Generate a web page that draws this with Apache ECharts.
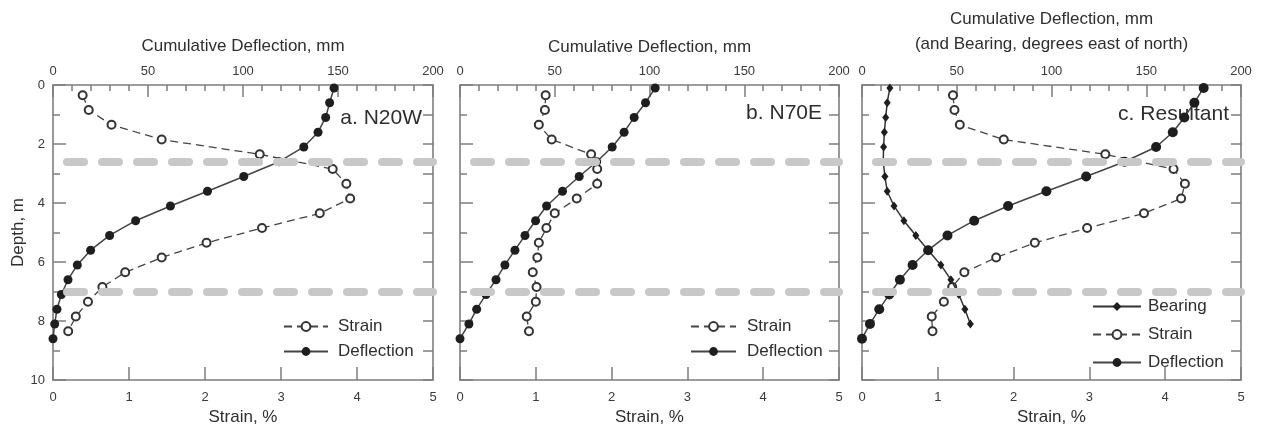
<!DOCTYPE html>
<html>
<head>
<meta charset="utf-8">
<script src="https://cdn.jsdelivr.net/npm/echarts@6/dist/echarts.min.js"></script>
<style>
  html, body { margin: 0; padding: 0; background: #fff; }
  #app { width: 1263px; height: 431px; }
</style>
</head>
<body>
<div id="app"></div>
<script>
// depths, m
var depthDefl = [0.1, 0.6, 1.1, 1.6, 2.1, 2.6, 3.1, 3.6, 4.1, 4.6, 5.1, 5.6, 6.1, 6.6, 7.1, 7.6, 8.1, 8.6]
var depthStrain = [0.35, 0.85, 1.35, 1.85, 2.35, 2.85, 3.35, 3.85, 4.35, 4.85, 5.35, 5.85, 6.35, 6.85, 7.35, 7.85, 8.35]
var depthBearing = [0.1, 0.6, 1.1, 1.6, 2.1, 2.6, 3.1, 3.6, 4.1, 4.6, 5.1, 5.6, 6.1, 6.6, 7.1, 7.6, 8.1]

// a. N20W
var strainA = [0.39, 0.47, 0.77, 1.43, 2.72, 3.68, 3.86, 3.91, 3.51, 2.75, 2.02, 1.43, 0.95, 0.65, 0.46, 0.30, 0.20]
var deflA = [147.9, 145.6, 143.5, 139.5, 132.0, 119.0, 100.4, 81.3, 61.8, 43.5, 29.8, 19.8, 12.8, 7.9, 4.4, 2.1, 0.9, 0]
// b. N70E
var strainB = [1.13, 1.12, 1.04, 1.21, 1.73, 1.81, 1.81, 1.54, 1.25, 1.14, 1.04, 1.02, 0.96, 1.01, 1.00, 0.88, 0.91]
var deflB = [103.0, 97.9, 91.9, 86.6, 80.3, 72.1, 62.9, 54.1, 45.7, 39.9, 34.3, 29.0, 23.7, 19.0, 13.7, 8.8, 4.7, 0]
// c. Resultant
var strainC = [1.20, 1.22, 1.29, 1.87, 3.21, 4.11, 4.26, 4.21, 3.72, 2.97, 2.28, 1.77, 1.35, 1.19, 1.08, 0.92, 0.93]
var deflC = [180.3, 175.4, 170.1, 164.0, 155.2, 138.5, 118.3, 97.3, 77.1, 59.2, 45.1, 34.9, 26.7, 20.0, 14.4, 9.1, 4.2, 0]
var bearingC = [14.7, 13.3, 12.5, 11.8, 11.4, 11.2, 12.1, 13.3, 16.9, 22.1, 28.4, 34.9, 41.6, 46.9, 51.1, 54.3, 57.2]

// boundary depths (gray dashed)
var refDepths = [2.6, 7.0]

var panelLabels = ['a. N20W', 'b. N70E', 'c. Resultant']
var topTitles = ['Cumulative Deflection, mm', 'Cumulative Deflection, mm', 'Cumulative Deflection, mm\n(and Bearing, degrees east of north)']
var topGaps = [26, 18, 28]

var font = "'Liberation Sans', Arial, sans-serif"
var axisColor = '#7e7e7e'
var ink = '#2e2e2e'

var pairs = (xs, ys) => xs.map((v, i) => [v, ys[i]])

var grids = [
    {left: 53, width: 380, top: 85, height: 296},
    {left: 460, width: 379, top: 85, height: 296},
    {left: 862, width: 379, top: 85, height: 296}
]

var xAxes = [], yAxes = [], series = []

grids.forEach((g, i) => {
    xAxes.push({
        gridIndex: i, type: 'value', position: 'top', min: 0, max: 200, interval: 50,
        name: topTitles[i], nameLocation: 'middle', nameGap: topGaps[i],
        nameTextStyle: {fontSize: 17, color: ink, fontFamily: font, lineHeight: 25},
        axisLine: {onZero: false, lineStyle: {color: axisColor, width: 1.6}},
        axisTick: {inside: true, length: 12, lineStyle: {color: axisColor, width: 1.5}},
        minorTick: {show: true, splitNumber: 5, length: 6, lineStyle: {color: axisColor, width: 1.5}},
        axisLabel: {margin: 7, fontSize: 13, color: '#3a3a3a', fontFamily: font},
        splitLine: {show: false}
    })
    xAxes.push({
        gridIndex: i, type: 'value', position: 'bottom', min: 0, max: 5, interval: 1,
        name: 'Strain, %', nameLocation: 'middle', nameGap: 29,
        nameTextStyle: {fontSize: 17, color: ink, fontFamily: font},
        axisLine: {onZero: false, lineStyle: {color: axisColor, width: 1.6}},
        axisTick: {inside: true, length: 13, lineStyle: {color: axisColor, width: 1.5}},
        axisLabel: {margin: 11, fontSize: 13, color: '#3a3a3a', fontFamily: font},
        splitLine: {show: false}
    })
    yAxes.push({
        gridIndex: i, type: 'value', position: 'left', inverse: true, min: 0, max: 10, interval: 2,
        name: i == 0 ? 'Depth, m' : '', nameLocation: 'middle', nameGap: 19,
        nameTextStyle: {fontSize: 17, color: ink, fontFamily: font},
        axisLine: {onZero: false, lineStyle: {color: axisColor, width: 1.6}},
        axisTick: {inside: true, length: 13, lineStyle: {color: axisColor, width: 1.5}},
        minorTick: {show: true, splitNumber: 2, length: 7, lineStyle: {color: axisColor, width: 1.5}},
        axisLabel: {show: i == 0, margin: 8, fontSize: 13, color: '#3a3a3a', fontFamily: font},
        splitLine: {show: false}
    })
    yAxes.push({
        gridIndex: i, type: 'value', position: 'right', inverse: true, min: 0, max: 10, interval: 1,
        axisLine: {onZero: false, lineStyle: {color: axisColor, width: 1.6}},
        axisTick: {inside: true, length: 10, lineStyle: {color: axisColor, width: 1.5}},
        axisLabel: {show: false},
        splitLine: {show: false}
    })

    // gray boundary lines behind the data
    series.push({
        name: 'ref' + i, type: 'line', data: [], xAxisIndex: 2 * i + 1, yAxisIndex: 2 * i, z: 1,
        markLine: {
            silent: true, symbol: ['none', 'none'], label: {show: false},
            lineStyle: {color: '#c8c8c8', width: 8, type: [17, 18], cap: 'round', dashOffset: -14},
            data: refDepths.map(d => ({yAxis: d}))
        }
    })
})

var strainSeries = (data, i) => ({
    name: 'Strain', type: 'line', data: data, xAxisIndex: 2 * i + 1, yAxisIndex: 2 * i, z: 3,
    symbol: 'emptyCircle', symbolSize: 8, showAllSymbol: true,
    lineStyle: {color: '#444', width: 1.3, type: [8, 5]},
    itemStyle: {color: '#333', borderWidth: 1.5}
})
var deflSeries = (data, i, size) => ({
    name: 'Deflection', type: 'line', data: data, xAxisIndex: 2 * i, yAxisIndex: 2 * i, z: 4,
    symbol: 'circle', symbolSize: size, showAllSymbol: true,
    lineStyle: {color: '#444', width: 1.5},
    itemStyle: {color: '#1e1e1e'}
})

series.push(strainSeries(pairs(strainA, depthStrain), 0))
series.push(deflSeries(pairs(deflA, depthDefl), 0, 9))
series.push(strainSeries(pairs(strainB, depthStrain), 1))
series.push(deflSeries(pairs(deflB, depthDefl), 1, 9))
series.push({
    name: 'Bearing', type: 'line', data: pairs(bearingC, depthBearing), xAxisIndex: 4, yAxisIndex: 4, z: 4,
    symbol: 'diamond', symbolSize: [7, 9], showAllSymbol: true,
    lineStyle: {color: '#333', width: 1.5},
    itemStyle: {color: '#1e1e1e'}
})
series.push(strainSeries(pairs(strainC, depthStrain), 2))
series.push(deflSeries(pairs(deflC, depthDefl), 2, 10))

var legendBase = {
    orient: 'vertical', selectedMode: false, itemHeight: 11,
    textStyle: {fontSize: 17, color: ink, fontFamily: font}
}

var chart = echarts.init(document.getElementById('app'), null, {renderer: 'canvas'})
chart.setOption({
    animation: false,
    backgroundColor: '#fff',
    grid: grids,
    xAxis: xAxes,
    yAxis: yAxes,
    legend: [
        Object.assign({}, legendBase, {data: ['Strain', 'Deflection'], left: 278, top: 313, itemWidth: 44, itemGap: 8,
            textStyle: Object.assign({}, legendBase.textStyle, {padding: [0, 0, 0, 5]})}),
        Object.assign({}, legendBase, {data: ['Strain', 'Deflection'], left: 685, top: 313, itemWidth: 45, itemGap: 8,
            textStyle: Object.assign({}, legendBase.textStyle, {padding: [0, 0, 0, 6]})}),
        Object.assign({}, legendBase, {data: ['Bearing', 'Strain', 'Deflection'], left: 1087, top: 293, itemWidth: 48, itemGap: 11,
            textStyle: Object.assign({}, legendBase.textStyle, {padding: [0, 0, 0, 2]})})
    ],
    graphic: [
        {type: 'text', right: 1263 - 422, top: 108, style: {text: panelLabels[0], fontSize: 21, fill: ink, fontFamily: font}},
        {type: 'text', right: 1263 - 822, top: 103, style: {text: panelLabels[1], fontSize: 21, fill: ink, fontFamily: font}},
        {type: 'text', right: 1263 - 1229, top: 104, style: {text: panelLabels[2], fontSize: 21, fill: ink, fontFamily: font}}
    ],
    series: series
})
</script>
</body>
</html>
